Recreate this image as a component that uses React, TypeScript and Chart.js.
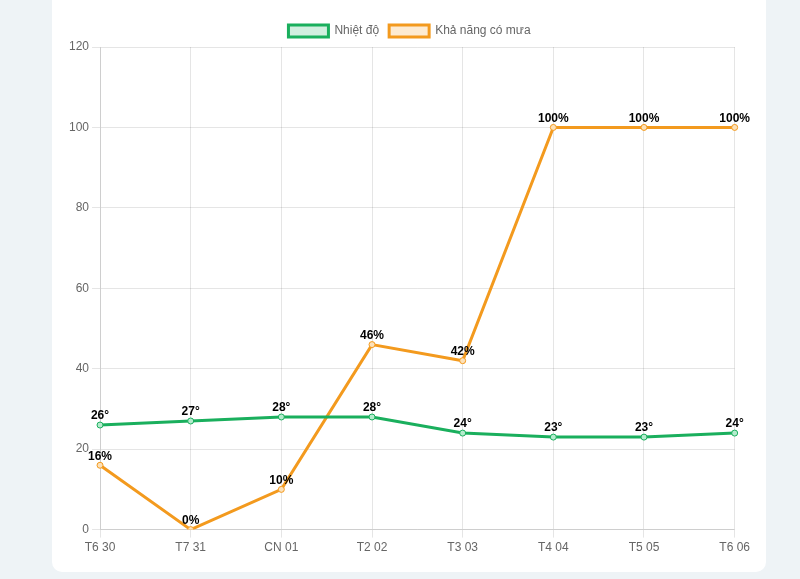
import React, { useEffect, useRef } from "react";
import { Chart, registerables } from "chart.js";

Chart.register(...registerables);

const categories = ["T6 30", "T7 31", "CN 01", "T2 02", "T3 03", "T4 04", "T5 05", "T6 06"];
const temperature = [26, 27, 28, 28, 24, 23, 23, 24];
const rainChance = [16, 0, 10, 46, 42, 100, 100, 100];
const yTicks = [0, 20, 40, 60, 80, 100, 120];
const suffixes = ["°", "%"];

const GREEN = "#1aaf5d";
const ORANGE = "#f39a1e";

const valueLabels = {
  id: "valueLabels",
  afterDatasetsDraw(chart: any) {
    const ctx = chart.ctx;
    ctx.save();
    ctx.font = "bold 12px 'Liberation Sans', Arial, sans-serif";
    ctx.fillStyle = "#000";
    ctx.textAlign = "center";
    ctx.textBaseline = "bottom";
    chart.data.datasets.forEach((ds: any, i: number) => {
      const meta = chart.getDatasetMeta(i);
      meta.data.forEach((pt: any, j: number) => {
        ctx.fillText(String(ds.data[j]) + suffixes[i], pt.x, pt.y - 3);
      });
    });
    ctx.restore();
  },
};

export default function App() {
  const ref = useRef<HTMLCanvasElement>(null);
  useEffect(() => {
    document.body.style.margin = "0";
    document.body.style.background = "#eef3f6";
    Chart.defaults.font.family = "'Liberation Sans', Arial, sans-serif";
    Chart.defaults.font.size = 12;
    Chart.defaults.color = "#666";
    const chart = new Chart(ref.current!, {
      type: "line",
      data: {
        labels: categories,
        datasets: [
          {
            label: "Nhiệt độ",
            data: temperature,
            borderColor: GREEN,
            backgroundColor: "rgba(26,175,93,0.2)",
            borderWidth: 3,
            pointRadius: 3,
            pointBorderWidth: 1,
            pointBackgroundColor: "rgba(180,235,205,1)",
            tension: 0,
            fill: false,
          },
          {
            label: "Khả năng có mưa",
            data: rainChance,
            borderColor: ORANGE,
            backgroundColor: "rgba(243,154,30,0.2)",
            borderWidth: 3,
            pointRadius: 3,
            pointBorderWidth: 1,
            pointBackgroundColor: "rgba(252,225,185,1)",
            tension: 0,
            fill: false,
          },
        ],
      },
      options: {
        animation: false,
        responsive: false,
        layout: { padding: { top: 15, left: 14, right: 0, bottom: 14 } },
        plugins: {
          legend: {
            labels: { boxWidth: 40, boxHeight: 12, font: { size: 12 }, color: "#666" },
          },
          tooltip: { enabled: false },
        },
        scales: {
          x: {
            grid: { color: "rgba(0,0,0,0.1)", tickLength: 8 },
            ticks: { color: "#666", font: { size: 12 } },
          },
          y: {
            min: yTicks[0],
            max: yTicks[yTicks.length - 1],
            ticks: { stepSize: 20, color: "#666", font: { size: 12 } },
            grid: { color: "rgba(0,0,0,0.1)", tickLength: 8 },
          },
        },
      },
      plugins: [valueLabels],
    });
    return () => chart.destroy();
  }, []);
  return (
    <div style={{ position: "relative", width: 800, height: 579, overflow: "hidden", background: "#eef3f6" }}>
      <div
        style={{
          position: "absolute",
          left: 52,
          top: -12,
          width: 714,
          height: 584,
          background: "#fff",
          borderRadius: 10,
        }}
      />
      <canvas
        ref={ref}
        width={701}
        height={572}
        style={{ position: "absolute", left: 52, top: 0, width: 701, height: 572 }}
      />
    </div>
  );
}
